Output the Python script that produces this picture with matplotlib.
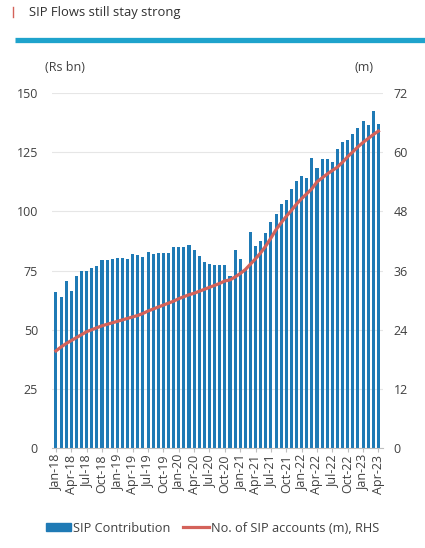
import matplotlib
matplotlib.use("Agg")
import matplotlib.pyplot as plt
from matplotlib.patches import Patch
from matplotlib.lines import Line2D
import numpy as np

plt.rcParams['font.family'] = ['Open Sans', 'DejaVu Sans']

months = ['Jan', 'Feb', 'Mar', 'Apr', 'May', 'Jun', 'Jul', 'Aug', 'Sep', 'Oct', 'Nov', 'Dec']
periods = [f"{m}-{y}" for y in range(18, 24) for m in months][:64]

sip_contribution = [66.1, 63.8, 70.8, 66.5, 72.6, 75.0, 75.0, 76.1, 77.0, 79.5, 79.5, 79.9,
                    80.5, 80.5, 80.1, 81.9, 81.4, 80.9, 82.8, 82.1, 82.3, 82.3, 82.3, 85.0,
                    85.0, 85.0, 86.0, 83.5, 81.0, 78.8, 77.8, 77.5, 77.5, 77.5, 72.6, 83.8,
                    79.8, 75.7, 91.5, 85.6, 87.7, 91.0, 95.7, 99.0, 103.1, 104.8, 109.4, 112.7,
                    114.8, 114.0, 122.7, 118.2, 122.3, 122.3, 121.0, 126.6, 129.4, 130.1, 132.6, 135.2,
                    138.1, 136.4, 142.4, 136.9]

sip_accounts = [19.7, 20.5, 21.2, 21.8, 22.4, 23.0, 23.6, 24.0, 24.4, 24.8, 25.1, 25.4,
                25.7, 26.0, 26.3, 26.6, 26.9, 27.3, 27.8, 28.2, 28.6, 29.0, 29.4, 29.8,
                30.3, 30.7, 31.1, 31.4, 31.8, 32.2, 32.6, 33.0, 33.4, 33.9, 34.1, 34.7,
                35.4, 36.2, 37.3, 38.4, 39.6, 41.0, 42.6, 44.3, 45.7, 47.0, 48.2, 49.5,
                50.6, 51.6, 52.6, 54.0, 54.8, 55.6, 56.3, 57.0, 58.0, 59.1, 60.1, 61.1,
                62.0, 62.8, 63.6, 64.3]

left_ticks = [0, 25, 50, 75, 100, 125, 150]
right_ticks = [0, 12, 24, 36, 48, 60, 72]

bar_color = '#1f7ab5'
line_color = '#d4625a'
text_color = '#404040'

fig = plt.figure(figsize=(4.25, 5.48), dpi=100)
ax = fig.add_axes([0.122, 0.1825, 0.778, 0.6475])
x = np.arange(len(periods))

ax.bar(x, sip_contribution, width=0.6, color=bar_color, zorder=2)
ax.set_ylim(0, 150)
ax.set_xlim(-0.8, 63.8)
ax.set_yticks(left_ticks)
ax.yaxis.grid(True, color='#e6e6e6', linewidth=0.8, zorder=0)
ax.set_axisbelow(True)
for s in ['top', 'right', 'left']:
    ax.spines[s].set_visible(False)
ax.spines['bottom'].set_color('#bfbfbf')
ax.tick_params(axis='y', length=0, labelsize=9, colors=text_color, pad=10)
ax.set_xticks(x[::3])
ax.set_xticklabels(periods[::3], rotation=90, fontsize=9, color=text_color)
ax.tick_params(axis='x', length=3, color='#bfbfbf', pad=2)

ax2 = ax.twinx()
ax2.plot(x, sip_accounts, color=line_color, linewidth=2.3, zorder=3)
ax2.set_ylim(0, 72)
ax2.set_yticks(right_ticks)
for s in ['top', 'right', 'left', 'bottom']:
    ax2.spines[s].set_visible(False)
ax2.tick_params(axis='y', length=0, labelsize=9, colors=text_color, pad=8)

fig.text(0.106, 0.876, '(Rs bn)', fontsize=9, color=text_color, va='center')
fig.text(0.834, 0.876, '(m)', fontsize=9, color=text_color, va='center')

# header
fig.text(0.068, 0.978, 'SIP Flows still stay strong', fontsize=9.4, color='#303030', va='center')
fig.add_artist(Line2D([0.031, 0.031], [0.969, 0.988], color='#d4625a', linewidth=1))
fig.add_artist(Line2D([0.035, 1.0], [0.927, 0.927], color='#1fa3cc', linewidth=3.8,
                      solid_capstyle='butt'))

handles = [Patch(color=bar_color), Line2D([0], [0], color=line_color, linewidth=2.3)]
fig.legend(handles, ['SIP Contribution', 'No. of SIP accounts (m), RHS'],
           loc='center', bbox_to_anchor=(0.5, 0.036), ncol=2, frameon=False,
           fontsize=9.2, handlelength=2.0, handleheight=0.6, handletextpad=0.15,
           columnspacing=1.0, labelcolor=text_color)

fig.savefig('out.png', dpi=100)
